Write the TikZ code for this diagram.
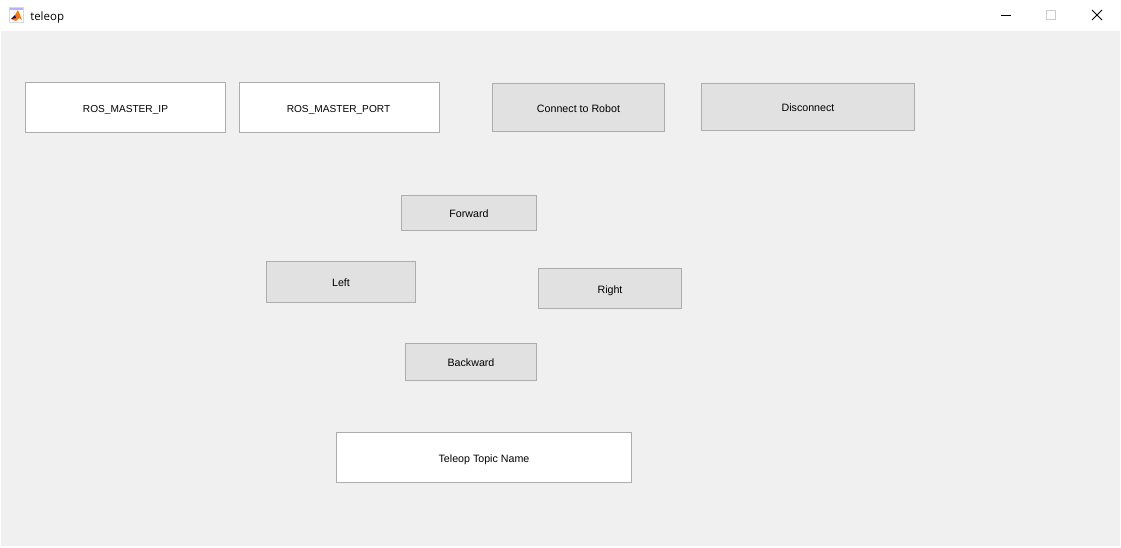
\documentclass[tikz,border=0pt]{standalone}
\usepackage{fontspec}
\setmainfont{Liberation Sans}
\newfontfamily\titlefont{Open Sans}
\definecolor{panelgray}{HTML}{F0F0F0}
\definecolor{btngray}{HTML}{E1E1E1}
\definecolor{edgegray}{HTML}{ADADAD}
\tikzstyle{field} = [rectangle, draw=edgegray, fill=white, line width=0.75pt, inner sep=0pt, text=black, text height=7.5pt, text depth=0.5pt, font=\fontsize{8}{9}\selectfont]
\tikzstyle{master} = [field, minimum width=150pt, minimum height=37.5pt, font=\fontsize{7.6}{9}\selectfont]
\tikzstyle{btn} = [field, fill=btngray]
\tikzstyle{winctl} = [line width=0.75pt]

\begin{document}
\begin{tikzpicture}[x=0.75pt, y=-0.75pt]
	\useasboundingbox (0,0) rectangle (1121,547);
	\fill [white] (0,0) rectangle (1121,547);
	\fill [panelgray] (1,31) rectangle (1120,546);
	
	% title bar
	\fill [white!85!black] (9,7) rectangle (24,23);
	\fill [white] (10,10) rectangle (23,22);
	\fill [blue!30!white] (10,8) rectangle (23,10);
	\fill [orange!90!red] (11,19) -- (15,15) -- (18,10) -- (20,15) -- (22,20) -- (19,18) -- (16,21) -- cycle;
	\fill [blue!60!black] (11,19) -- (15,15) -- (16,18) -- cycle;
	\node [font=\titlefont\fontsize{8.6}{11}\selectfont, anchor=west, inner sep=0pt] (title) at (30,17.5) {teleop};
	\draw [winctl, black] (1001,15.5) -- (1011,15.5);
	\draw [winctl, black!20] (1046.5,10.5) rectangle (1055.5,19.5);
	\draw [winctl, black] (1092,10) -- (1102,20);
	\draw [winctl, black] (1102,10) -- (1092,20);
	
	% text fields
	\node [master] (masterip) at (125.5,107.5) {ROS\_MASTER\_IP};
	\node [master, align=center] (masterport) at (339.5,107.5) {\hspace*{-1.5pt}ROS\_MASTER\_PORT};
	\node [field, minimum width=221.25pt, minimum height=37.5pt] (topic) at (484,457.5) {Teleop Topic Name};
	
	% buttons
	\node [btn, minimum width=129pt, minimum height=36pt] (connect) at (578.5,107.5) {Connect to Robot};
	\node [btn, minimum width=159.75pt, minimum height=35.25pt] (disconnect) at (808,107) {Disconnect};
	\node [btn, minimum width=101.25pt, minimum height=26.25pt] (forward) at (469,213) {Forward};
	\node [btn, minimum width=111.75pt, minimum height=30.75pt] (left) at (341,282) {Left};
	\node [btn, minimum width=107.25pt, minimum height=30pt] (right) at (610,288.5) {Right};
	\node [btn, minimum width=98.25pt, minimum height=27.75pt] (backward) at (471,362) {Backward};
\end{tikzpicture}
\end{document}
